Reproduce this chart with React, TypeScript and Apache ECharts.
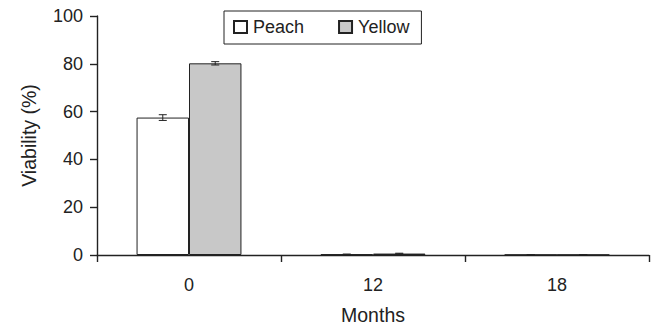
import React, { useEffect, useRef } from "react";
import * as echarts from "echarts";

const months = ["0", "12", "18"];
const peach = [57.5, 0.3, 0.1];
const yellow = [80.2, 0.6, 0.1];
const peachErr = [1.2, 0.1, 0.05];
const yellowErr = [0.7, 0.15, 0.05];
const yTicks = [0, 20, 40, 60, 80, 100];

const FONT = "Liberation Sans";
const INK = "#222";
const FS_TICK = 18;
const FS_NAME = 19.5;
const FS_LEG = 18;
const BAR_FRAC = 0.285;

export default function App() {
  const ref = useRef<HTMLDivElement>(null);
  useEffect(() => {
    const chart = echarts.init(ref.current!, null, { renderer: "svg" });
    const errData: number[][] = [];
    months.forEach((_, i) => {
      errData.push([i, peach[i], peachErr[i], -1]);
      errData.push([i, yellow[i], yellowErr[i], 1]);
    });
    chart.setOption({
      animation: false,
      textStyle: { fontFamily: FONT, color: INK },
      grid: { left: 97, right: 7, top: 16, bottom: 70, outerBoundsMode: "none", containLabel: false },
      legend: {
        left: 224,
        top: 11,
        padding: [7, 12, 8, 9],
        itemGap: 34,
        itemWidth: 13,
        itemHeight: 12,
        icon: "rect",
        borderColor: INK,
        borderWidth: 1,
        textStyle: { fontSize: FS_LEG, color: INK, fontFamily: FONT, padding: [0, 0, 0, 1] },
        data: ["Peach", "Yellow"],
      },
      xAxis: {
        type: "category",
        data: months,
        name: "Months",
        nameLocation: "middle",
        nameGap: 50,
        nameTextStyle: { fontSize: FS_NAME, color: INK, fontFamily: FONT },
        axisLine: { lineStyle: { color: INK, width: 1.4 } },
        axisTick: { show: true, length: 7, lineStyle: { color: INK, width: 1.4 } },
        axisLabel: { fontSize: FS_TICK, color: INK, margin: 21, fontFamily: FONT },
      },
      yAxis: {
        type: "value",
        min: 0,
        max: 100,
        interval: 20,
        name: "Viability (%)",
        nameLocation: "middle",
        nameGap: 58,
        nameTextStyle: { fontSize: FS_NAME, color: INK, fontFamily: FONT },
        axisLine: { show: true, lineStyle: { color: INK, width: 1.4 } },
        axisTick: { show: true, length: 7, lineStyle: { color: INK, width: 1.4 } },
        axisLabel: {
          fontSize: FS_TICK,
          color: INK,
          margin: 14,
          fontFamily: FONT,
          formatter: (v: number) => (yTicks.includes(v) ? String(v) : ""),
        },
        splitLine: { show: false },
      },
      series: [
        {
          name: "Peach",
          type: "bar",
          data: peach,
          barWidth: BAR_FRAC * 100 + "%",
          barGap: "0%",
          itemStyle: { color: "#ffffff", borderColor: INK, borderWidth: 1 },
        },
        {
          name: "Yellow",
          type: "bar",
          data: yellow,
          barWidth: BAR_FRAC * 100 + "%",
          barGap: "0%",
          itemStyle: { color: "#c8c8c8", borderColor: INK, borderWidth: 1 },
        },
        {
          type: "custom",
          data: errData,
          z: 10,
          renderItem: (params: any, api: any) => {
            const cat = api.value(0);
            const val = api.value(1);
            const err = api.value(2);
            const side = api.value(3);
            const band = api.size([1, 0])[0];
            const off = side * band * BAR_FRAC / 2;
            const top = api.coord([cat, val + err]);
            const bot = api.coord([cat, val - err]);
            const x = top[0] + off;
            const cap = 4;
            const style = { stroke: INK, lineWidth: 1 };
            return {
              type: "group",
              children: [
                { type: "line", shape: { x1: x, y1: top[1], x2: x, y2: bot[1] }, style },
                { type: "line", shape: { x1: x - cap, y1: top[1], x2: x + cap, y2: top[1] }, style },
                { type: "line", shape: { x1: x - cap, y1: bot[1], x2: x + cap, y2: bot[1] }, style },
              ],
            };
          },
        },
      ],
    });
    return () => chart.dispose();
  }, []);
  return <div ref={ref} style={{ width: 656, height: 325, position: "absolute", left: 0, top: 0 }} />;
}
